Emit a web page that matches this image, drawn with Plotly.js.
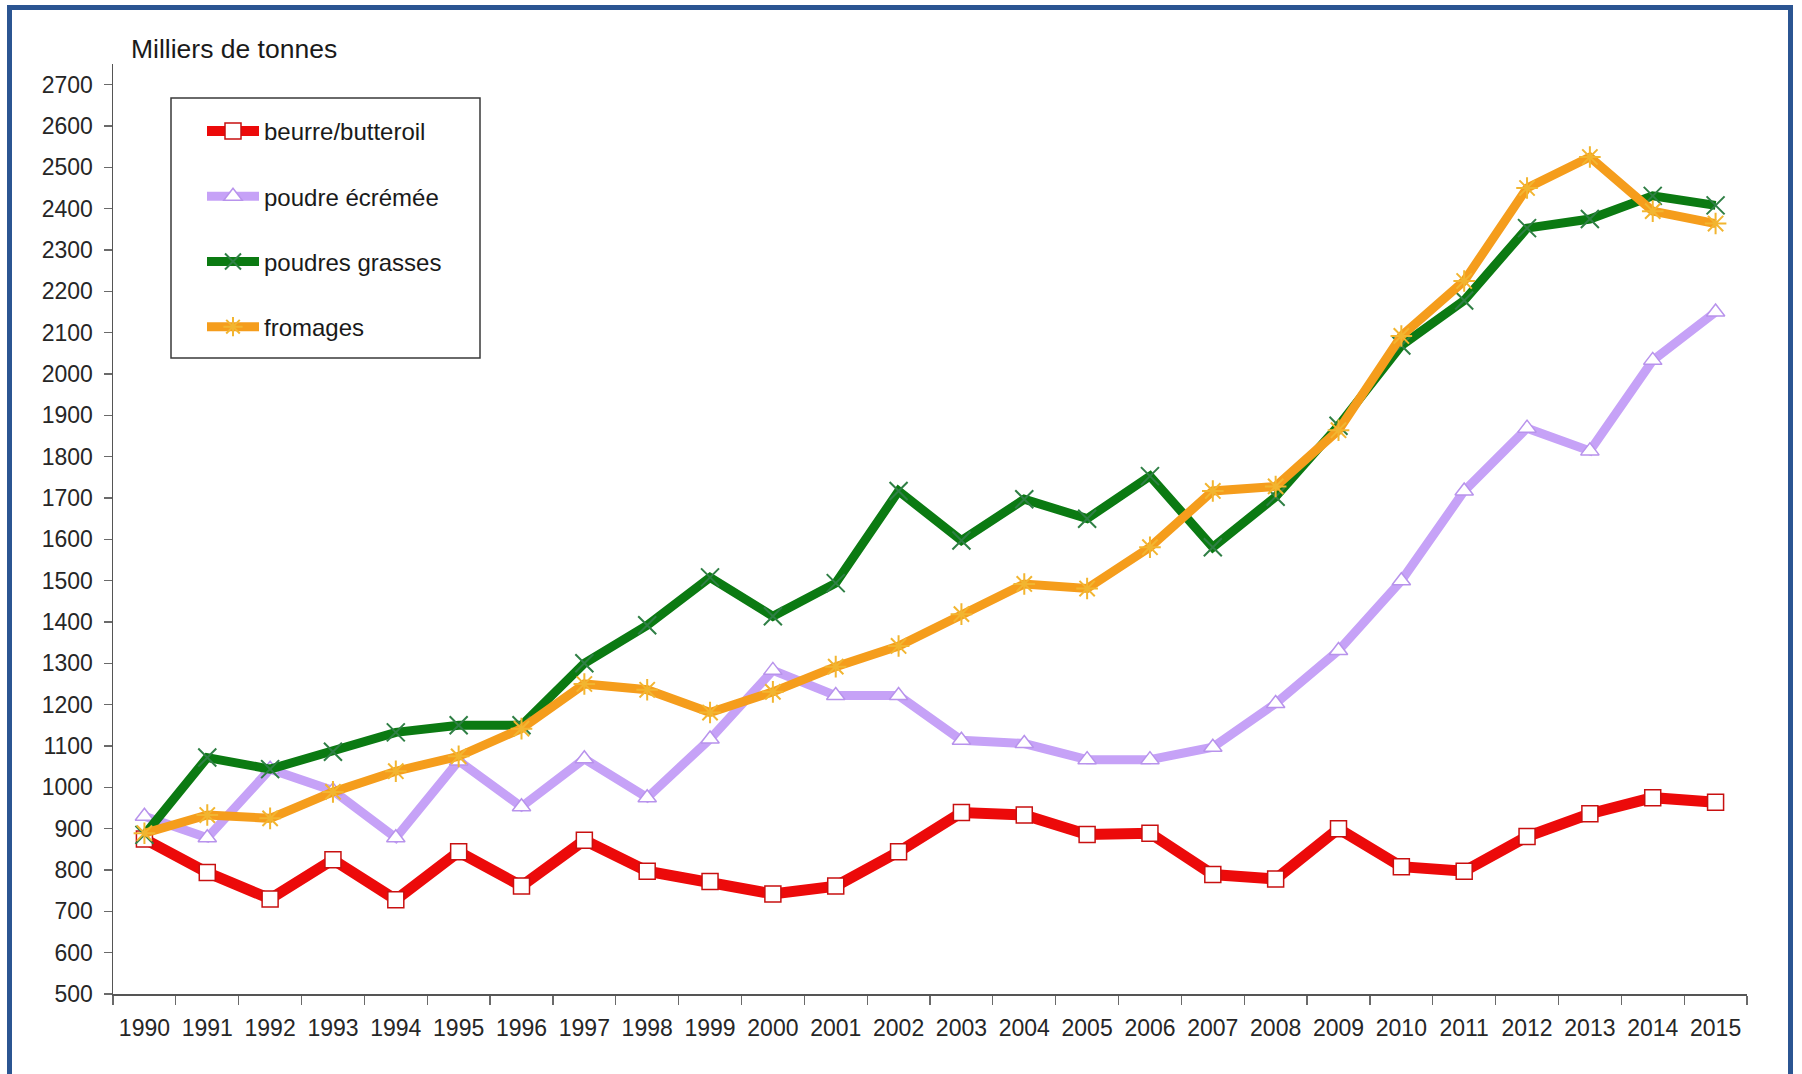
<!DOCTYPE html>
<html>
<head>
<meta charset="utf-8">
<script src="https://cdn.plot.ly/plotly-3.0.1.min.js"></script>
<style>
  html, body { margin: 0; padding: 0; background: #ffffff; overflow: hidden; }
  #wrap { position: relative; width: 1802px; height: 1074px; }
  #frame { position: absolute; left: 7px; top: 5px; width: 1786px; height: 1200px;
           border: 5px solid #2b5592; box-sizing: border-box; pointer-events: none; z-index: 5; }
  #chart { position: absolute; left: 0; top: 0; width: 1802px; height: 1074px; }
</style>
</head>
<body>
<div id="wrap">
  <div id="chart"></div>
  <div id="frame"></div>
</div>
<script>
// ---- data (Milliers de tonnes) ----
const years = ['1990','1991','1992','1993','1994','1995','1996','1997','1998','1999','2000','2001','2002',
               '2003','2004','2005','2006','2007','2008','2009','2010','2011','2012','2013','2014','2015'];

const beurre = [875, 794, 730, 825, 728, 844, 761, 872, 797, 772, 742, 761, 844,
                939, 933, 886, 889, 789, 778, 900, 808, 797, 881, 936, 975, 964];

const poudreEcremee = [930, 878, 1044, 992, 878, 1064, 953, 1069, 975, 1117, 1283, 1222, 1222,
                       1114, 1106, 1067, 1067, 1097, 1203, 1331, 1500, 1717, 1869, 1814, 2033, 2150];

const poudresGrasses = [885, 1072, 1044, 1086, 1133, 1150, 1150, 1300, 1392, 1508, 1414, 1494, 1717,
                        1597, 1697, 1650, 1753, 1581, 1703, 1875, 2069, 2178, 2353, 2375, 2431, 2408];

const fromages = [889, 933, 925, 989, 1039, 1075, 1142, 1250, 1236, 1181, 1231, 1292, 1342,
                  1419, 1492, 1481, 1581, 1717, 1728, 1864, 2092, 2225, 2450, 2525, 2394, 2364];

const seriesNames = ['beurre/butteroil', 'poudre écrémée', 'poudres grasses', 'fromages'];
const yTitle = 'Milliers de tonnes';

// ---- traces ----
const traces = [
  {
    x: years, y: beurre, name: seriesNames[0], type: 'scatter', mode: 'lines+markers',
    legendgroup: 'a',
    line: { color: '#ec0a0a', width: 11 },
    marker: { symbol: 'square', size: 16, color: '#ffffff', line: { color: '#c81010', width: 1.5 } }
  },
  {
    x: years, y: poudreEcremee, name: seriesNames[1], type: 'scatter', mode: 'lines+markers',
    legendgroup: 'b',
    line: { color: '#c6a2f7', width: 9 },
    marker: { symbol: 'triangle-up', size: 16, color: '#ffffff', line: { color: '#b893ec', width: 1.5 } }
  },
  {
    x: years, y: poudresGrasses, name: seriesNames[2], type: 'scatter', mode: 'lines+markers',
    legendgroup: 'c',
    line: { color: '#0b7a12', width: 9 },
    marker: { symbol: 'x-thin-open', size: 18, color: '#2f7f45', line: { color: '#2f7f45', width: 2 } }
  },
  {
    x: years, y: fromages, name: seriesNames[3], type: 'scatter', mode: 'lines+markers',
    legendgroup: 'd',
    line: { color: '#f59d1c', width: 9 },
    marker: { symbol: 'asterisk-open', size: 18, color: '#f2b530', line: { color: '#f2b530', width: 2 } }
  }
];

const tickFont = { family: '"Liberation Sans", Arial, sans-serif', size: 23, color: '#262626' };

const layout = {
  width: 1802, height: 1074,
  margin: { l: 113, r: 55, t: 64, b: 80, pad: 0 },
  paper_bgcolor: '#ffffff', plot_bgcolor: '#ffffff',
  showlegend: true,
  title: {
    text: yTitle,
    font: { family: '"Liberation Sans", Arial, sans-serif', size: 26.5, color: '#1a1a1a' },
    xref: 'paper', x: 0.011, xanchor: 'left',
    yref: 'container', y: 1 - 39 / 1074, yanchor: 'top'
  },
  xaxis: {
    type: 'category',
    range: [-0.5, 25.5],
    tickson: 'boundaries',
    tickangle: 0,
    ticks: 'outside', ticklen: 9, tickwidth: 1.2, tickcolor: '#6a6a6a',
    showline: true, linecolor: '#555555', linewidth: 1.5,
    showgrid: false, zeroline: false,
    tickfont: tickFont,
    ticklabelstandoff: 13,
    fixedrange: true
  },
  yaxis: {
    range: [500, 2750],
    tickmode: 'linear', tick0: 500, dtick: 100,
    ticks: 'outside', ticklen: 8, tickwidth: 1.2, tickcolor: '#6a6a6a',
    showline: true, linecolor: '#555555', linewidth: 1.5,
    showgrid: false, zeroline: false,
    tickfont: tickFont,
    ticklabelstandoff: 6,
    fixedrange: true
  },
  legend: {
    x: (202 - 113) / 1634, xanchor: 'left',
    y: (994 - 109) / 930, yanchor: 'top',
    bgcolor: 'rgba(0,0,0,0)', borderwidth: 0,
    font: { family: '"Liberation Sans", Arial, sans-serif', size: 24, color: '#1a1a1a' },
    traceorder: 'grouped', tracegroupgap: 31,
    itemwidth: 52
  },
  shapes: [
    {
      type: 'rect', xref: 'paper', yref: 'paper',
      x0: (171 - 113) / 1634, x1: (480 - 113) / 1634,
      y0: (994 - 358) / 930, y1: (994 - 98) / 930,
      line: { color: '#3a3a3a', width: 1.5 }, fillcolor: 'rgba(0,0,0,0)', layer: 'below'
    }
  ]
};

Plotly.newPlot('chart', traces, layout, { displayModeBar: false, staticPlot: true });
</script>
</body>
</html>
